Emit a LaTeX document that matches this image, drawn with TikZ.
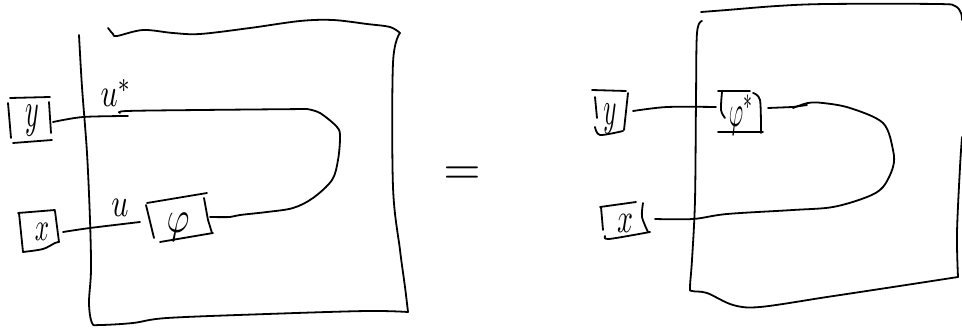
\documentclass[tikz,border=0pt]{standalone}
\usepackage{tikz}
\tikzset{
  ink/.style={line width=1.8pt,black,line cap=round,line join=round},
  lab/.style={inner sep=0pt}
}
\begin{document}
\begin{tikzpicture}[x=1pt,y=-1pt]
\useasboundingbox (0,0) rectangle (962,329);
% left frame
\draw[ink] plot[smooth,tension=0.55] coordinates {(79,35) (82,87) (87,153) (90,220) (91,270) (89,303) (92,323) (100,325) (133,323) (167,318) (267,314) (367,311) (408,312)};
\draw[ink] plot[smooth,tension=0.55] coordinates {(408,312) (405,287) (400,250) (393,187) (393,63) (400,33)};
\draw[ink] plot[smooth,tension=0.55] coordinates {(400,33) (390,27) (367,24) (333,20) (300,21) (250,28) (200,34) (173,33) (143,30) (117,36) (113,34) (108,28)};
% left y box
\draw[ink] (10,98) -- (50,97);
\draw[ink] (8,103) -- (11,138);
\draw[ink] (49,102) -- (51,133);
\draw[ink] (13,143) -- (52,140);
\node[lab,xscale=2.6,yscale=5] (ly) at (32,121) {$y$};
% u* wire loop
\coordinate (ua) at (53,122);
\coordinate (ub) at (128,116);
\draw[ink] plot[smooth,tension=0.5] coordinates {(ua) (83,117) (ub)};
\draw[ink] plot[smooth,tension=0.55] coordinates {(120,113) (127,111) (200,110) (307,109)};
\draw[ink] plot[smooth,tension=0.55] coordinates {(307,109) (320,113) (337,127) (340,137) (338,160) (332,180) (313,198) (293,208) (267,212) (240,215) (230,217) (210,217)};
\node[lab,xscale=3,yscale=4] (ustar) at (116,93) {$u^{*}$};
% left x box
\draw[ink] (18,213) -- (55,210);
\draw[ink] (19,213) -- (23,252);
\draw[ink] plot[smooth,tension=0.5] coordinates {(23,252) (43,249) (55,243) (59,242)};
\draw[ink] (55,211) -- (59,242);
\node[lab,xscale=2.5,yscale=4] (lx) at (42,232) {$x$};
\coordinate (xa) at (63,232);
\coordinate (xb) at (140,222);
\draw[ink] plot[smooth,tension=0.5] coordinates {(xa) (90,228) (xb)};
\node[lab,xscale=3,yscale=4] (lu) at (120,208) {$u$};
% phi box
\draw[ink] (147,203) -- (207,193);
\draw[ink] (146,205) -- (154,238);
\draw[ink] (204,198) -- (208,220) -- (212,233);
\draw[ink] (160,242) -- (213,233);
\node[lab,xscale=3.5,yscale=4.5] (lphi) at (178,227) {$\varphi$};
% equals
\node[lab,scale=4.8] (eq) at (462,176) {$=$};
% right frame
\draw[ink] plot[smooth,tension=0.55] coordinates {(701,12) (727,10) (777,6) (827,4) (937,4) (955,6) (961,13) (962,20)};
\draw[ink] plot[smooth,tension=0.55] coordinates {(702,21) (697,33) (696,100) (695,200) (692,260) (690,287) (692,291) (707,293) (733,305) (760,307) (827,297) (893,287) (958,277)};
\draw[ink] plot[smooth,tension=0.55] coordinates {(958,277) (957,233) (960,167) (962,137)};
% right y box
\draw[ink] (592,90) -- (626,91);
\draw[ink] (595,97) -- (597,118);
\draw[ink] (628,93) -- (624,130);
\draw[ink] plot[smooth,tension=0.5] coordinates {(595,127) (600,135) (623,131)};
\node[lab,xscale=2.5,yscale=4.8] (ry) at (610,119) {$y$};
\coordinate (rya) at (633,111);
\coordinate (ryb) at (716,107);
\draw[ink] plot[smooth,tension=0.5] coordinates {(rya) (667,107) (ryb)};
% phi star box
\draw[ink] (718,91) -- (750,91);
\draw[ink] plot[smooth,tension=0.5] coordinates {(722,92) (721,110) (725,118)};
\draw[ink] plot[smooth,tension=0.5] coordinates {(753,93) (760,100) (761,133)};
\draw[ink] (718,132) -- (763,132);
\node[lab,xscale=2.2,yscale=4.5] (rphi) at (741,115) {$\varphi^{*}$};
% right wire loop
\draw[ink] (768,108) -- (793,107) -- (807,105);
\draw[ink] plot[smooth,tension=0.55] coordinates {(793,108) (808,103) (823,103) (850,108) (883,123) (893,150) (893,167) (883,187) (867,197) (833,207) (793,210) (727,214) (693,219) (655,219)};
% right x box
\draw[ink] (600,207) -- (636,202);
\draw[ink] (601,207) -- (603,230);
\draw[ink] plot[smooth,tension=0.5] coordinates {(605,236) (609,239) (650,232)};
\draw[ink] plot[smooth,tension=0.5] coordinates {(643,203) (642,217) (648,232)};
\node[lab,xscale=2.8,yscale=4.2] (rx) at (625,223) {$x$};
\end{tikzpicture}
\end{document}
